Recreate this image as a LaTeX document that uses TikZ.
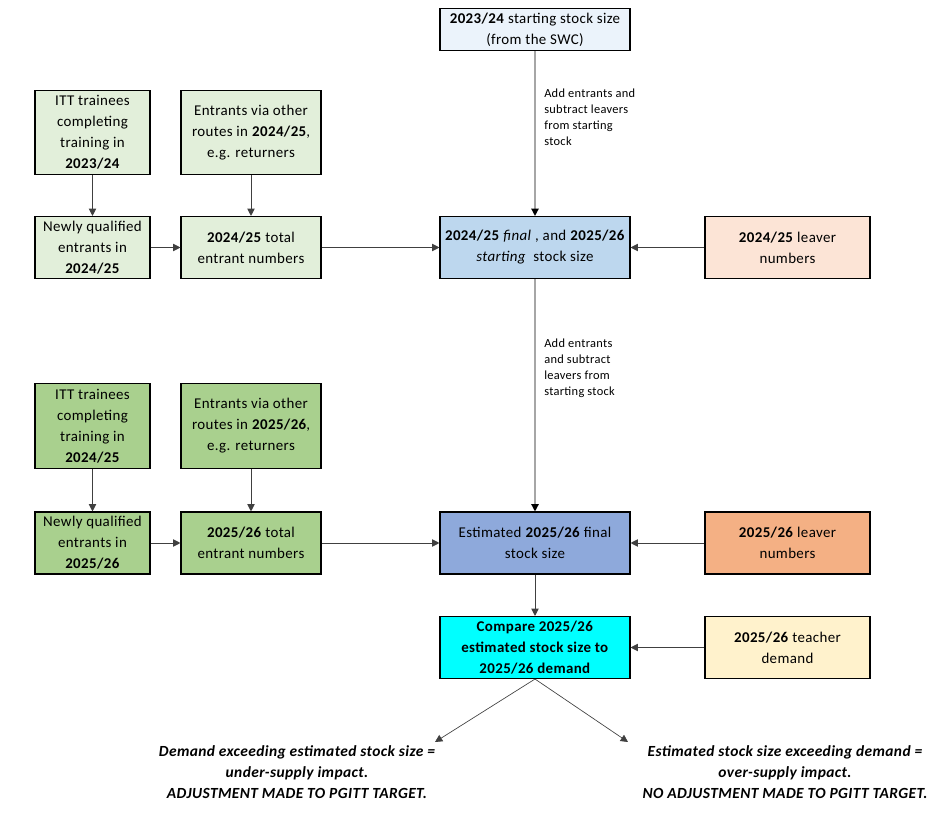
\documentclass[tikz,border=0pt]{standalone}
\usepackage{fontspec}
\setmainfont{Carlito}[LetterSpace=2.5]
\usetikzlibrary{arrows.meta}
\definecolor{cTop}{HTML}{EBF3FB}
\definecolor{cGreenA}{HTML}{E2EFDA}
\definecolor{cGreenB}{HTML}{A9D08E}
\definecolor{cBlueA}{HTML}{BDD7EE}
\definecolor{cBlueB}{HTML}{8EA9DB}
\definecolor{cPeachA}{HTML}{FCE4D6}
\definecolor{cPeachB}{HTML}{F4B084}
\definecolor{cCyan}{HTML}{00FFFF}
\definecolor{cCream}{HTML}{FFF2CC}
\definecolor{cDark}{HTML}{404040}
\definecolor{cGrey}{HTML}{A6A6A6}
\tikzset{
  box/.style={draw=black, line width=0.8pt, align=center, inner sep=2pt,
    font=\fontsize{11.2}{15.75}\selectfont, text=black},
  wsmall/.style={minimum width=86.25pt},
  wmid/.style={minimum width=105pt},
  wbig/.style={minimum width=142.5pt},
  wleav/.style={minimum width=123.75pt},
  hrow/.style={minimum height=46.5pt},
  htall/.style={minimum height=63.5pt},
  arr/.style={draw=cDark, line width=0.7pt, -{Triangle[length=5.5pt,width=5.5pt]}},
  garr/.style={draw=cGrey, line width=1pt, -{Triangle[length=5.5pt,width=5.5pt,color=black]}},
  darr/.style={draw=cDark, line width=0.5pt, -{Triangle[length=5.5pt,width=5.5pt]}},
  note/.style={align=left, inner sep=0pt, anchor=north west,
    font=\fontsize{9.3}{12}\selectfont},
  outcome/.style={align=center, inner sep=0pt,
    font=\fontsize{11.6}{16}\selectfont\bfseries\itshape}
}
\begin{document}
\begin{tikzpicture}[x=0.75pt,y=-0.75pt]
\useasboundingbox (0,0) rectangle (940,813);

% top
\node[box, fill=cTop, wbig, minimum height=31.5pt] (top) at (535,29.5)
  {\textbf{2023/24} starting stock size\\(from the SWC)};

% first block
\node[box, fill=cGreenA, wsmall, htall] (itt1) at (92.5,132.5)
  {ITT trainees\\completing\\training in\\\textbf{2023/24}};
\node[box, fill=cGreenA, wmid, htall] (oth1) at (251,132.5)
  {Entrants via other\\routes in \textbf{2024/25},\\e.g. returners};
\node[box, fill=cGreenA, wsmall, hrow] (nq1) at (92.5,247.5)
  {Newly qualified\\entrants in\\\textbf{2024/25}};
\node[box, fill=cGreenA, wmid, hrow] (tot1) at (251,247.5)
  {\textbf{2024/25} total\\entrant numbers};
\node[box, fill=cBlueA, wbig, hrow] (fin1) at (535,247.5)
  {\textbf{2024/25} \textit{final} , and \textbf{2025/26}\\\textit{starting}\ \ stock size};
\node[box, fill=cPeachA, wleav, hrow] (lv1) at (787.5,247.5)
  {\textbf{2024/25} leaver\\numbers};

% second block
\node[box, fill=cGreenB, wsmall, htall] (itt2) at (92.5,426)
  {ITT trainees\\completing\\training in\\\textbf{2024/25}};
\node[box, fill=cGreenB, wmid, htall] (oth2) at (251,426)
  {Entrants via other\\routes in \textbf{2025/26},\\e.g. returners};
\node[box, fill=cGreenB, wsmall, hrow] (nq2) at (92.5,543)
  {Newly qualified\\entrants in\\\textbf{2025/26}};
\node[box, fill=cGreenB, wmid, hrow] (tot2) at (251,543)
  {\textbf{2025/26} total\\entrant numbers};
\node[box, fill=cBlueB, wbig, hrow] (est) at (535,543)
  {Estimated \textbf{2025/26} final\\stock size};
\node[box, fill=cPeachB, wleav, hrow] (lv2) at (787.5,543)
  {\textbf{2025/26} leaver\\numbers};

% compare
\node[box, fill=cCyan, wbig, hrow] (cmp) at (535,647.5)
  {\textbf{Compare 2025/26}\\\textbf{estimated stock size to}\\\textbf{2025/26 demand}};
\node[box, fill=cCream, wleav, hrow] (dem) at (787.5,647.5)
  {\textbf{2025/26} teacher\\demand};

% notes
\node[note] (n1) at (544,89) {Add entrants and\\subtract leavers\\from starting\\stock};
\node[note] (n2) at (544,339) {Add entrants\\and subtract\\leavers from\\starting stock};

% outcomes
\node[outcome] (o1) at (297,772)
  {Demand exceeding estimated stock size =\\under-supply impact.\\ADJUSTMENT MADE TO PGITT TARGET.};
\node[outcome] (o2) at (785,772)
  {Estimated stock size exceeding demand =\\over-supply impact.\\NO ADJUSTMENT MADE TO PGITT TARGET.};

\coordinate (dl) at (435,742);
\coordinate (dr) at (628,742);

% connectors
\draw[garr] (top) -- (fin1);
\draw[garr] (fin1) -- (est);
\draw[arr] (itt1) -- (nq1);
\draw[arr] (oth1) -- (tot1);
\draw[arr] (nq1) -- (tot1);
\draw[arr] (tot1) -- (fin1);
\draw[arr] (lv1) -- (fin1);
\draw[arr] (itt2) -- (nq2);
\draw[arr] (oth2) -- (tot2);
\draw[arr] (nq2) -- (tot2);
\draw[arr] (tot2) -- (est);
\draw[arr] (lv2) -- (est);
\draw[arr] (est) -- (cmp);
\draw[arr] (dem) -- (cmp);
\draw[darr] (cmp.south) -- (dl);
\draw[darr] (cmp.south) -- (dr);
\end{tikzpicture}
\end{document}
